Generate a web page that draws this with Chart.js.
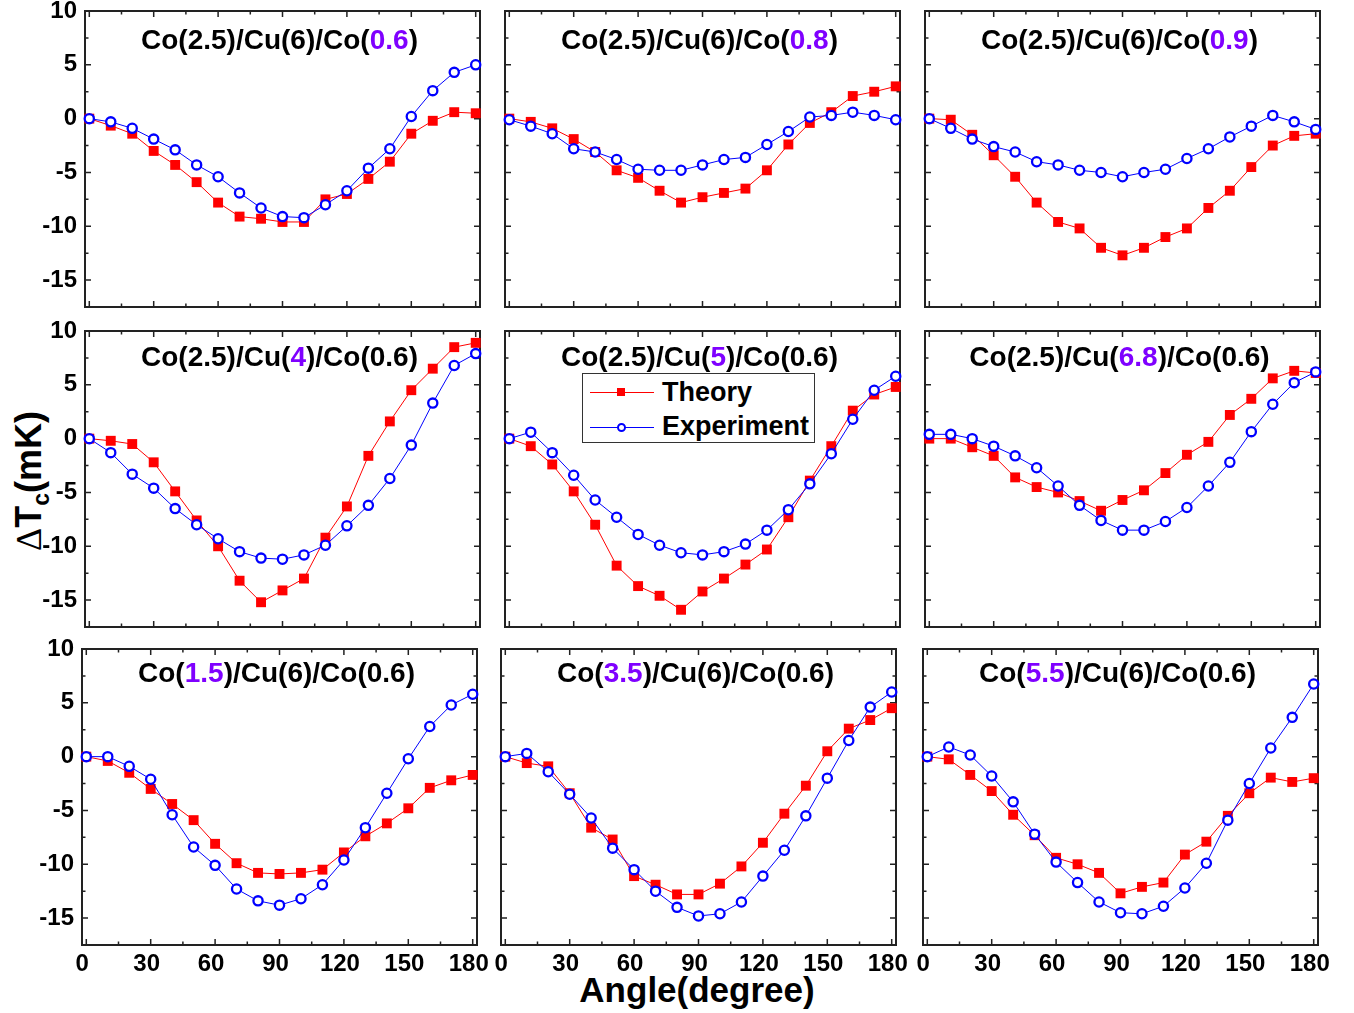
<!DOCTYPE html>
<html>
<head>
<meta charset="utf-8">
<script src="https://cdn.jsdelivr.net/npm/chart.js@4.4.0/dist/chart.umd.min.js"></script>
<style>
  body { margin: 0; background: #fff; width: 1354px; height: 1013px; position: relative; overflow: hidden;
         font-family: 'Liberation Sans', Arial, sans-serif; font-weight: bold; color: #000; }
  canvas { position: absolute; }
  .title { position: absolute; text-align: center; font-size: 28px; line-height: 28px; white-space: nowrap; }
  .hl { color: #7f00ff; }
  #ytitle { position: absolute; left: 29px; top: 481px; font-size: 36px; line-height: 36px; white-space: nowrap;
            transform: translate(-50%, -50%) rotate(-90deg); }
  #ytitle .delta { font-family: 'Liberation Serif', serif; font-weight: normal; }
  #ytitle sub { font-size: 23px; vertical-align: -8px; line-height: 0; }
  #xtitle { position: absolute; left: 497px; width: 400px; top: 972px; text-align: center; font-size: 35px; line-height: 35px; }
  #legend { position: absolute; left: 582px; top: 373px; width: 231px; height: 68px; border: 1px solid #333; background: #fff; }
  .lg-line { position: absolute; left: 7px; width: 64px; height: 1px; }
  .lg-text { position: absolute; left: 79px; font-size: 27px; line-height: 27px; }
</style>
</head>
<body>
<div id="ytitle"><span class="delta">&Delta;</span>T<sub>c</sub>(mK)</div>
<div id="xtitle">Angle(degree)</div>
<script>
'use strict';
// angle (degree) of every measured point, same for all panels
var angles = [0, 10, 20, 30, 40, 50, 60, 70, 80, 90, 100, 110, 120, 130, 140, 150, 160, 170, 180];
var xTickValues = [0, 30, 60, 90, 120, 150, 180];
var yTickValues = [-15, -10, -5, 0, 5, 10];

// row 1 : Co(2.5)/Cu(6)/Co(x)
var theoryCo06 = [0, -0.65, -1.4, -3.0, -4.3, -5.9, -7.8, -9.1, -9.3, -9.6, -9.6, -7.5, -7.0, -5.6, -4.0, -1.4, -0.2, 0.6, 0.5];
var experimentCo06 = [0, -0.3, -0.9, -1.9, -2.9, -4.3, -5.4, -6.9, -8.3, -9.1, -9.2, -8.0, -6.7, -4.6, -2.8, 0.2, 2.6, 4.3, 5.0];
var theoryCo08 = [0, -0.3, -0.9, -1.9, -3.1, -4.8, -5.5, -6.7, -7.8, -7.3, -6.9, -6.5, -4.8, -2.4, -0.4, 0.6, 2.1, 2.5, 3.0];
var experimentCo08 = [-0.1, -0.7, -1.4, -2.8, -3.1, -3.8, -4.7, -4.8, -4.8, -4.3, -3.8, -3.6, -2.4, -1.2, 0.15, 0.3, 0.6, 0.3, -0.1];
var theoryCo09 = [0, -0.1, -1.5, -3.4, -5.4, -7.8, -9.6, -10.2, -12.0, -12.7, -12.0, -11.0, -10.2, -8.3, -6.7, -4.5, -2.5, -1.6, -1.4];
var experimentCo09 = [0, -0.9, -1.9, -2.6, -3.1, -4.0, -4.3, -4.8, -5.0, -5.4, -5.0, -4.7, -3.7, -2.8, -1.7, -0.7, 0.3, -0.3, -1.0];

// row 2 : Co(2.5)/Cu(x)/Co(0.6)
var theoryCu4 = [0, -0.2, -0.5, -2.2, -4.9, -7.6, -10.0, -13.2, -15.2, -14.1, -13.0, -9.2, -6.3, -1.6, 1.6, 4.5, 6.5, 8.5, 8.9];
var experimentCu4 = [0, -1.3, -3.3, -4.6, -6.5, -8.0, -9.3, -10.5, -11.1, -11.2, -10.8, -9.9, -8.1, -6.2, -3.7, -0.6, 3.3, 6.8, 7.9];
var theoryCu5 = [0, -0.7, -2.4, -4.9, -8.0, -11.8, -13.7, -14.6, -15.9, -14.2, -13.0, -11.7, -10.3, -7.3, -3.9, -0.7, 2.6, 4.1, 4.8];
var experimentCu5 = [0, 0.6, -1.3, -3.4, -5.7, -7.3, -8.9, -9.9, -10.6, -10.8, -10.5, -9.8, -8.5, -6.6, -4.2, -1.4, 1.8, 4.5, 5.8];
var theoryCu68 = [0, 0, -0.8, -1.6, -3.6, -4.5, -5.0, -5.8, -6.7, -5.7, -4.8, -3.2, -1.5, -0.3, 2.2, 3.7, 5.6, 6.3, 6.1];
var experimentCu68 = [0.4, 0.4, 0, -0.7, -1.6, -2.7, -4.4, -6.2, -7.6, -8.5, -8.5, -7.7, -6.4, -4.4, -2.2, 0.65, 3.2, 5.2, 6.2];

// row 3 : Co(x)/Cu(6)/Co(0.6)
var theoryCo15 = [0, -0.4, -1.5, -3.0, -4.4, -5.9, -8.1, -9.9, -10.8, -10.9, -10.8, -10.5, -8.9, -7.4, -6.2, -4.8, -2.9, -2.2, -1.7];
var experimentCo15 = [0, 0, -0.9, -2.1, -5.4, -8.4, -10.1, -12.3, -13.4, -13.8, -13.2, -11.9, -9.6, -6.6, -3.4, -0.2, 2.8, 4.8, 5.8];
var theoryCo35 = [0, -0.6, -0.9, -3.4, -6.6, -7.7, -11.1, -11.9, -12.8, -12.8, -11.8, -10.2, -8.0, -5.3, -2.7, 0.5, 2.6, 3.4, 4.5];
var experimentCo35 = [0, 0.3, -1.4, -3.5, -5.7, -8.5, -10.5, -12.5, -14.0, -14.8, -14.6, -13.5, -11.1, -8.7, -5.5, -2.0, 1.5, 4.6, 6.0];
var theoryCo55 = [0, -0.25, -1.7, -3.2, -5.4, -7.3, -9.4, -10.0, -10.8, -12.7, -12.1, -11.7, -9.1, -7.9, -5.5, -3.4, -1.95, -2.35, -2.0];
var experimentCo55 = [0, 0.9, 0.15, -1.8, -4.2, -7.2, -9.8, -11.7, -13.5, -14.5, -14.6, -13.9, -12.2, -9.9, -5.9, -2.5, 0.8, 3.65, 6.75];

// title pieces: plain, highlighted, plain
var panelTitles = [
    ['Co(2.5)/Cu(6)/Co(', '0.6', ')'],
    ['Co(2.5)/Cu(6)/Co(', '0.8', ')'],
    ['Co(2.5)/Cu(6)/Co(', '0.9', ')'],
    ['Co(2.5)/Cu(', '4', ')/Co(0.6)'],
    ['Co(2.5)/Cu(', '5', ')/Co(0.6)'],
    ['Co(2.5)/Cu(', '6.8', ')/Co(0.6)'],
    ['Co(', '1.5', ')/Cu(6)/Co(0.6)'],
    ['Co(', '3.5', ')/Cu(6)/Co(0.6)'],
    ['Co(', '5.5', ')/Cu(6)/Co(0.6)']
];
var theorySeries = [theoryCo06, theoryCo08, theoryCo09, theoryCu4, theoryCu5, theoryCu68, theoryCo15, theoryCo35, theoryCo55];
var experimentSeries = [experimentCo06, experimentCo08, experimentCo09, experimentCu4, experimentCu5, experimentCu68, experimentCo15, experimentCo35, experimentCo55];

// plot area of each panel on the page (left per row/col, top per row)
var panelLayout = {
    lefts: [[85, 505, 925], [85, 505, 925], [82, 501, 923]],
    width: 395,
    tops: [11, 331, 649],
    height: 296,
    titleTops: [26, 343, 659]
};

var frameTicksPlugin = {
    id: 'frameTicks',
    beforeDatasetsDraw: function (chart) {
        var ctx = chart.ctx;
        var a = chart.chartArea;
        var xs = chart.scales.x;
        var ys = chart.scales.y;
        ctx.save();
        ctx.strokeStyle = '#222';
        ctx.lineWidth = 1.5;
        ctx.beginPath();
        for (var v = 0; v <= 180; v += 15) {
            var px = xs.getPixelForValue(v);
            var len = v % 30 === 0 ? 6 : 3.5;
            ctx.moveTo(px, a.bottom);
            ctx.lineTo(px, a.bottom - len);
            ctx.moveTo(px, a.top);
            ctx.lineTo(px, a.top + len);
        }
        for (var w = -15; w <= 10; w += 2.5) {
            var py = ys.getPixelForValue(w);
            var ylen = w % 5 === 0 ? 6 : 3.5;
            ctx.moveTo(a.left, py);
            ctx.lineTo(a.left + ylen, py);
            ctx.moveTo(a.right, py);
            ctx.lineTo(a.right - ylen, py);
        }
        ctx.stroke();
        ctx.lineWidth = 2;
        ctx.strokeRect(a.left, a.top, a.right - a.left, a.bottom - a.top);
        ctx.restore();
    }
};

function toPoints(values) {
    var pts = [];
    for (var i = 0; i < angles.length; i++) {
        pts.push({ x: angles[i], y: values[i] });
    }
    return pts;
}

Chart.defaults.font.family = "'Liberation Sans', Arial, sans-serif";
Chart.defaults.font.weight = 'bold';
Chart.defaults.font.size = 24;
Chart.defaults.color = '#000';

function makePanel(index) {
    var row = Math.floor(index / 3);
    var col = index % 3;
    var left = panelLayout.lefts[row][col];
    var top = panelLayout.tops[row];
    var padTop = 20, padRight = 25, yWidth = 70, xHeight = 50;

    var canvas = document.createElement('canvas');
    canvas.width = panelLayout.width + yWidth + padRight;
    canvas.height = panelLayout.height + padTop + xHeight;
    canvas.style.left = (left - yWidth) + 'px';
    canvas.style.top = (top - padTop) + 'px';
    document.body.appendChild(canvas);

    var title = document.createElement('div');
    title.className = 'title';
    title.style.left = (left - 3) + 'px';
    title.style.width = panelLayout.width + 'px';
    title.style.top = panelLayout.titleTops[row] + 'px';
    var parts = panelTitles[index];
    title.innerHTML = parts[0] + '<span class="hl">' + parts[1] + '</span>' + parts[2];
    document.body.appendChild(title);

    new Chart(canvas, {
        type: 'line',
        data: {
            datasets: [{
                label: 'Theory',
                data: toPoints(theorySeries[index]),
                borderColor: '#ff0000',
                backgroundColor: '#ff0000',
                borderWidth: 1,
                pointStyle: 'rect',
                pointRadius: 7,
                pointBorderWidth: 0,
                order: 1,
                clip: false
            }, {
                label: 'Experiment',
                data: toPoints(experimentSeries[index]),
                borderColor: '#0000ff',
                backgroundColor: '#ffffff',
                borderWidth: 1,
                pointStyle: 'circle',
                pointRadius: 4.6,
                pointBorderWidth: 2.3,
                pointBackgroundColor: '#ffffff',
                order: 0,
                clip: false
            }]
        },
        options: {
            responsive: false,
            animation: false,
            layout: { padding: { left: 0, top: padTop, right: padRight, bottom: 0 } },
            plugins: { legend: { display: false }, tooltip: { enabled: false } },
            scales: {
                x: {
                    type: 'linear',
                    min: -2,
                    max: 182,
                    grid: { display: false, drawTicks: false },
                    border: { display: false },
                    ticks: { display: row === 2, padding: 5, labelOffset: -4, maxRotation: 0, autoSkip: false },
                    afterBuildTicks: function (scale) {
                        scale.ticks = xTickValues.map(function (v) { return { value: v }; });
                    },
                    afterFit: function (scale) {
                        scale.height = xHeight;
                        scale.paddingLeft = 0;
                        scale.paddingRight = 0;
                    }
                },
                y: {
                    type: 'linear',
                    min: -17.5,
                    max: 10,
                    grid: { display: false, drawTicks: false },
                    border: { display: false },
                    ticks: { display: col === 0, padding: 8 },
                    afterBuildTicks: function (scale) {
                        scale.ticks = yTickValues.map(function (v) { return { value: v }; });
                    },
                    afterFit: function (scale) {
                        scale.width = yWidth;
                        scale.paddingTop = 0;
                        scale.paddingBottom = 0;
                    }
                }
            }
        },
        plugins: [frameTicksPlugin]
    });
}

for (var p = 0; p < 9; p++) {
    makePanel(p);
}
</script>
<div id="legend">
  <div class="lg-line" style="top:18px; background:#ff0000;"></div>
  <div style="position:absolute; left:34px; top:14px; width:8px; height:8px; background:#ff0000;"></div>
  <div class="lg-text" style="top:5px;">Theory</div>
  <div class="lg-line" style="top:53px; background:#0000ff;"></div>
  <div style="position:absolute; left:34px; top:49px; width:5px; height:5px; border:2px solid #0000ff; border-radius:50%; background:#fff;"></div>
  <div class="lg-text" style="top:39px;">Experiment</div>
</div>
</body>
</html>
